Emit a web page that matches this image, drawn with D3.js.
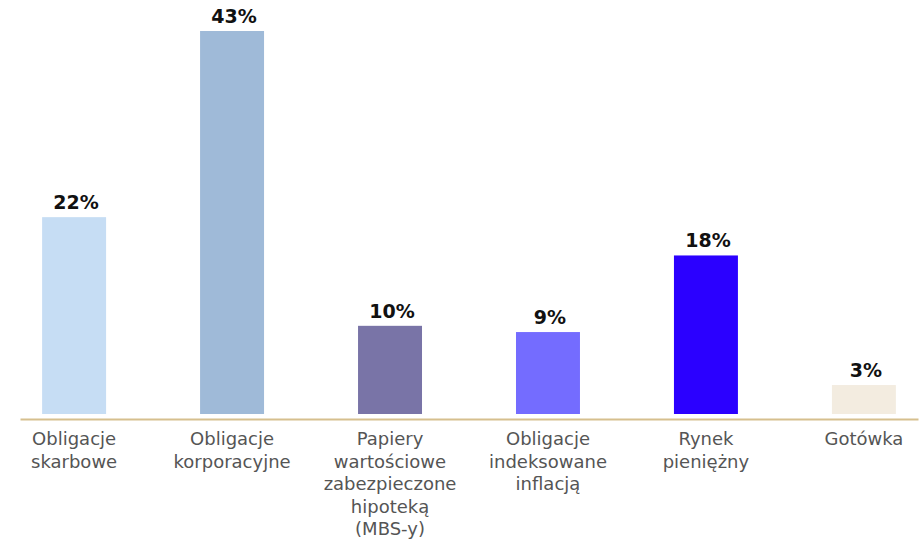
<!DOCTYPE html>
<html>
<head>
<meta charset="utf-8">
<script src="https://cdn.jsdelivr.net/npm/d3@7"></script>
<style>
    body { margin: 0; background: #fff; }
    .cat-label { font-family: 'DejaVu Sans', sans-serif; font-size: 18px; fill: #555; }
    .val-label { font-family: 'DejaVu Sans', sans-serif; font-size: 19px; font-weight: bold; fill: #111; }
</style>
</head>
<body>
<div id="chart"></div>
<script>
// Data
const categories = [
    'Obligacje skarbowe',
    'Obligacje korporacyjne',
    'Papiery wartościowe zabezpieczone hipoteką (MBS-y)',
    'Obligacje indeksowane inflacją',
    'Rynek pieniężny',
    'Gotówka'
];
const labelLines = [
    ['Obligacje', 'skarbowe'],
    ['Obligacje', 'korporacyjne'],
    ['Papiery', 'wartościowe', 'zabezpieczone', 'hipoteką', '(MBS-y)'],
    ['Obligacje', 'indeksowane', 'inflacją'],
    ['Rynek', 'pieniężny'],
    ['Gotówka']
];
const values = [22.1, 43, 9.9, 9.2, 17.8, 3.25];
const colors = ['#c6ddf4', '#9fbad8', '#7974a7', '#746cff', '#2b00ff', '#f3ece0'];

const WIDTH = 920;
const HEIGHT = 541;

const svg = d3.select('#chart').append('svg')
    .attr('width', WIDTH)
    .attr('height', HEIGHT);

// Scales
const x = d3.scaleBand()
    .domain(categories)
    .range([20, 918])
    .paddingInner(0.595)
    .paddingOuter(0.14);

const y = d3.scaleLinear()
    .domain([0, d3.max(values)])
    .range([414, 31]);

const data = categories.map((c, i) => ({ cat: c, value: values[i], color: colors[i], lines: labelLines[i] }));

// Bars
svg.selectAll('.bar')
    .data(data)
    .enter().append('rect')
    .attr('class', 'bar')
    .attr('x', d => x(d.cat))
    .attr('y', d => y(d.value))
    .attr('width', x.bandwidth())
    .attr('height', d => y(0) - y(d.value))
    .attr('fill', d => d.color);

// Value labels
svg.selectAll('.val-label')
    .data(data)
    .enter().append('text')
    .attr('class', 'val-label')
    .attr('x', d => x(d.cat) + x.bandwidth() / 2 + 2)
    .attr('y', d => y(d.value) - 8)
    .attr('text-anchor', 'middle')
    .text(d => Math.round(d.value) + '%');

// Baseline axis
const axis = svg.append('g')
    .attr('transform', `translate(0,${y(0) + 5})`)
    .call(d3.axisBottom(x).tickSize(0).tickSizeOuter(0).tickFormat(''));

axis.select('.domain')
    .attr('stroke', '#d6bf8e')
    .attr('stroke-width', 2);

// Multi-line category labels
const lineHeight = 22.5;
svg.selectAll('.cat-label')
    .data(data)
    .enter().append('text')
    .attr('class', 'cat-label')
    .attr('text-anchor', 'middle')
    .attr('transform', d => `translate(${x(d.cat) + x.bandwidth() / 2},${y(0) + 31})`)
    .selectAll('tspan')
    .data(d => d.lines)
    .enter().append('tspan')
    .attr('x', 0)
    .attr('y', (l, i) => i * lineHeight)
    .text(l => l);
</script>
</body>
</html>
